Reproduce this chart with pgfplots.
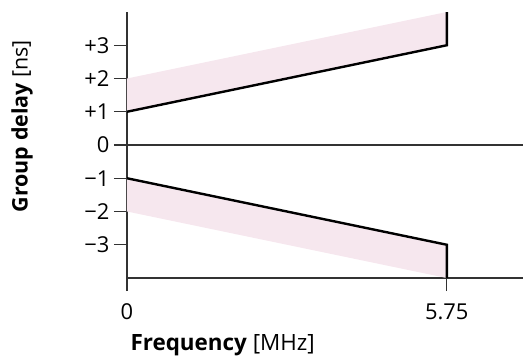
\documentclass[border=0pt]{standalone}
\usepackage{pgfplots}
\pgfplotsset{compat=1.18}
\usepackage{fontspec}
\setmainfont{Open Sans}
\definecolor{bandpink}{RGB}{246,231,238}
\definecolor{axgray}{RGB}{50,50,50}
\begin{document}
\begin{tikzpicture}
\begin{axis}[
  name=ax,
  scale only axis,
  width=396bp, height=266bp,
  xmin=0, xmax=7.12, ymin=-4, ymax=4,
  axis x line*=bottom, axis y line*=left,
  axis line style={axgray, line width=1.3bp},
  clip=false,
  xtick={0,5.75}, xticklabels={0,5.75},
  ytick={-3,-2,-1,0,1,2,3},
  yticklabels={−3,−2,−1,0,+1,+2,+3},
  tick align=outside,
  major tick length=13bp,
  tick style={axgray, line width=1.3bp},
  ticklabel style={font=\fontsize{22}{26}\selectfont, text=black},
  xticklabel style={yshift=-9bp},
  yticklabel style={xshift=-1bp},
  ylabel={\textbf{Group delay} [ns]},
  ylabel style={at={(axis description cs:-0.265,0.571)}, anchor=center, rotate=0, font=\fontsize{21.5}{24}\selectfont},
  xlabel={\textbf{Frequency} [MHz]},
  xlabel style={at={(axis description cs:0,-0.271)}, anchor=base west, font=\fontsize{22.5}{26}\selectfont},
]
\addplot[fill=bandpink, draw=none] coordinates {(0,1) (5.75,3) (5.75,4) (0,2)} -- cycle;
\addplot[fill=bandpink, draw=none] coordinates {(0,-1) (5.75,-3) (5.75,-4) (0,-2)} -- cycle;
\addplot[axgray, line width=1.3bp] coordinates {(0,0) (7.12,0)};
\addplot[black, line width=2.4bp, line join=miter] coordinates {(0,1) (5.75,3) (5.75,4)};
\addplot[black, line width=2.4bp, line join=miter] coordinates {(0,-1) (5.75,-3) (5.75,-4)};
\end{axis}
\pgfresetboundingbox
\path[use as bounding box] (ax.south west) ++(-127bp,-79bp) rectangle ++(523bp,357bp);
\end{tikzpicture}
\end{document}
